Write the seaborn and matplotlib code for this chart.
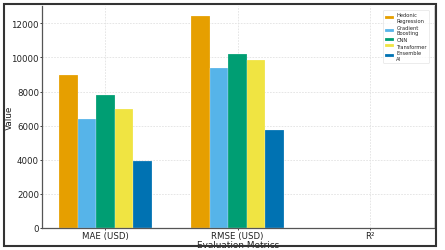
import matplotlib
matplotlib.use("Agg")
import matplotlib.pyplot as plt
import seaborn as sns
import pandas as pd
from matplotlib.patches import Rectangle

metrics = ["MAE (USD)", "RMSE (USD)", "R²"]
models = ["Hedonic\nRegression", "Gradient\nBoosting", "CNN", "Transformer", "Ensemble\nAI"]
hedonic = [8950, 12420, 0.78]
gradient = [6400, 9360, 0.84]
cnn = [7820, 10180, 0.82]
transformer = [6950, 9880, 0.83]
ensemble = [3950, 5760, 0.90]
colors = ["#E69F00", "#56B4E9", "#009E73", "#F0E442", "#0072B2"]

rows = []
for m, vals in zip(models, [hedonic, gradient, cnn, transformer, ensemble]):
    for met, v in zip(metrics, vals):
        rows.append({"Metric": met, "Model": m, "Value": v})
df = pd.DataFrame(rows)

sns.set_theme(style="whitegrid")
plt.rcParams['font.family'] = ['DejaVu Sans']

fig = plt.figure(figsize=(4.45, 2.51), dpi=100)
ax = fig.add_axes([0.094, 0.088, 0.881, 0.884])
sns.barplot(data=df, x="Metric", y="Value", hue="Model", palette=colors,
            width=0.7, saturation=1, ax=ax, linewidth=0.15, edgecolor="#ffffff")

ax.set_xlim(-0.48, 2.485)
ax.set_ylim(0, 13020)
ax.set_yticks([0, 2000, 4000, 6000, 8000, 10000, 12000])
ax.grid(True, axis="both", linestyle=(0, (2, 1.5)), color="#e2e2e2", linewidth=0.6)
ax.set_axisbelow(True)
ax.spines["top"].set_visible(False)
ax.spines["right"].set_color("#cfcfcf")
ax.spines["right"].set_linewidth(0.6)
for s in ["left", "bottom"]:
    ax.spines[s].set_color("#555555")
    ax.spines[s].set_linewidth(0.9)
ax.tick_params(axis="both", labelsize=6.2, colors="#222222", length=1.5, width=0.6,
               direction="out", pad=0.6, left=True, bottom=True)
ax.set_xlabel("Evaluation Metrics", fontsize=6.4, color="#222222")
ax.set_ylabel("Value", fontsize=6.4, color="#222222")
ax.xaxis.set_label_coords(0.5, -0.076, transform=ax.transAxes)
ax.yaxis.set_label_coords(-0.082, 0.5, transform=ax.transAxes)
ax.xaxis.label.set_va("center")
ax.yaxis.label.set_va("center")

leg = ax.legend(loc="upper right", fontsize=3.7, frameon=True, handlelength=1.6,
                handleheight=0.5, labelspacing=0.3, borderpad=0.5, handletextpad=0.5,
                bbox_to_anchor=(0.995, 0.995))
leg.get_frame().set_edgecolor("#dddddd")
leg.get_frame().set_linewidth(0.5)

fig.patches.append(Rectangle((0.009, 0.014), 0.971, 0.966, transform=fig.transFigure,
                             fill=False, edgecolor="#333333", linewidth=1.5, zorder=10))

fig.savefig("out.png", dpi=100)
